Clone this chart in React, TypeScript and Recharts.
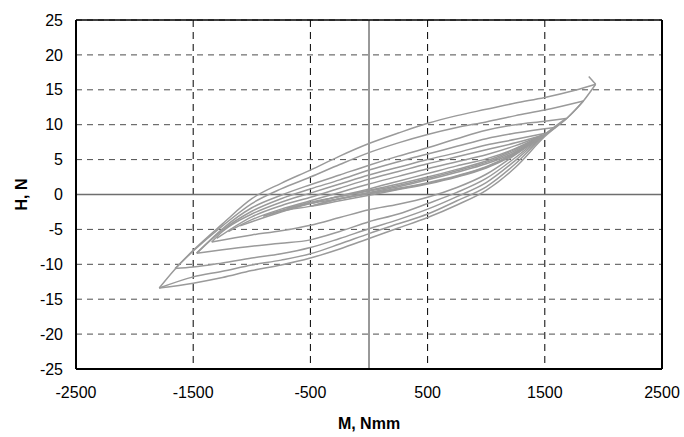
import { ScatterChart, Scatter, XAxis, YAxis, CartesianGrid, ReferenceLine } from "recharts";

type Pt = [number, number];

const xTicks = [-2500, -1500, -500, 500, 1500, 2500];
const yTicks = [-25, -20, -15, -10, -5, 0, 5, 10, 15, 20, 25];

// loading branches (negative tip -> positive tip)
const up1: Pt[] = [[-1790, -13.4], [-1650, -10.6], [-1500, -8.0], [-1250, -4.2], [-1000, -0.6], [-750, 1.6], [-500, 3.5], [-250, 5.5], [0, 7.3], [250, 8.8], [500, 10.2], [750, 11.3], [1000, 12.2], [1250, 13.1], [1500, 13.9], [1750, 14.9], [1934, 15.8]];
const hook: Pt[] = [[1934, 15.8], [1875, 16.9]];
const up2: Pt[] = [[-1655, -10.6], [-1500, -8.1], [-1250, -4.5], [-1000, -1.3], [-750, 0.8], [-500, 2.5], [-250, 4.3], [0, 6.0], [250, 7.4], [500, 8.6], [750, 9.6], [1000, 10.4], [1250, 11.3], [1500, 12.1], [1829, 13.4]];
const up3: Pt[] = [[-1470, -8.4], [-1250, -4.9], [-1000, -1.9], [-750, -0.1], [-500, 1.4], [-250, 2.8], [0, 4.2], [250, 5.5], [500, 6.7], [750, 8.0], [1000, 9.2], [1250, 10.0], [1500, 10.5], [1681, 10.9]];
const up4: Pt[] = [[-1470, -8.4], [-1250, -5.1], [-1000, -2.4], [-750, -0.6], [-500, 0.8], [-250, 2.1], [0, 3.5], [250, 4.7], [500, 5.8], [750, 6.9], [1000, 8.0], [1250, 8.8], [1587, 9.6]];
const up5: Pt[] = [[-1342, -6.8], [-1250, -5.3], [-1000, -2.8], [-750, -1.1], [-500, 0.2], [-250, 1.5], [0, 2.8], [250, 3.9], [500, 5.0], [750, 6.0], [1000, 7.1], [1250, 7.9], [1516, 8.8]];
const up6: Pt[] = [[-1300, -6.3], [-1000, -3.2], [-750, -1.6], [-500, -0.4], [-250, 0.9], [0, 2.2], [250, 3.3], [500, 4.4], [750, 5.4], [1000, 6.4], [1250, 7.4], [1480, 8.5]];
const up7: Pt[] = [[-1200, -5.3], [-1000, -3.6], [-750, -2.1], [-500, -0.9], [-250, 0.3], [0, 1.5], [250, 2.6], [500, 3.7], [750, 4.7], [1000, 5.7], [1250, 7.0], [1480, 8.5]];
const up8: Pt[] = [[-1100, -4.5], [-1000, -3.9], [-750, -2.5], [-500, -1.3], [-250, -0.2], [0, 0.8], [250, 1.9], [500, 3.0], [750, 4.1], [1000, 5.1], [1250, 6.6], [1480, 8.5]];

// small inner loops (the thick bundle)
const bu1: Pt[] = [[-902, -3.1], [-750, -2.3], [-500, -1.2], [-250, -0.3], [0, 0.6], [250, 1.5], [500, 2.5], [750, 3.6], [1000, 4.8], [1250, 6.5], [1480, 8.5]];
const bu2: Pt[] = [[-702, -2.0], [-500, -1.1], [-250, -0.3], [0, 0.5], [250, 1.3], [500, 2.3], [750, 3.4], [1000, 4.6], [1250, 6.3], [1480, 8.5]];
const bu3: Pt[] = [[-503, -1.7], [-250, -0.6], [0, 0.3], [250, 1.1], [500, 2.1], [750, 3.2], [1000, 4.4], [1250, 6.1], [1480, 8.5]];
const bd1: Pt[] = [[1480, 8.5], [1250, 5.8], [1000, 3.8], [750, 2.5], [500, 1.5], [250, 0.7], [0, -0.1], [-250, -0.9], [-500, -1.7], [-750, -2.4], [-902, -3.1]];
const bd2: Pt[] = [[1480, 8.5], [1250, 5.9], [1000, 3.9], [750, 2.6], [500, 1.6], [250, 0.8], [0, 0.1], [-250, -0.6], [-500, -1.3], [-702, -2.0]];
const bd3: Pt[] = [[1480, 8.5], [1250, 6.0], [1000, 4.0], [750, 2.7], [500, 1.7], [250, 0.9], [0, 0.2], [-250, -0.6], [-503, -1.7]];

// unloading branches (positive tip -> negative tip)
const dn1: Pt[] = [[1934, 15.8], [1829, 13.4], [1700, 11.1], [1500, 8.3], [1250, 3.9], [1000, 0.6], [750, -1.5], [500, -3.3], [250, -4.8], [0, -6.3], [-250, -7.8], [-500, -9.1], [-750, -10.1], [-1000, -10.9], [-1250, -11.9], [-1500, -12.7], [-1790, -13.4]];
const dn2: Pt[] = [[1829, 13.4], [1700, 11.1], [1500, 8.5], [1250, 4.4], [1000, 1.1], [750, -0.9], [500, -2.8], [250, -4.2], [0, -5.6], [-250, -7.1], [-500, -8.5], [-750, -9.4], [-1000, -10.1], [-1250, -11.0], [-1500, -11.8], [-1790, -13.4]];
const dn3: Pt[] = [[1681, 10.9], [1500, 8.6], [1250, 4.9], [1000, 1.7], [750, -0.3], [500, -2.1], [250, -3.6], [0, -4.9], [-250, -6.3], [-500, -7.6], [-750, -8.5], [-1000, -9.1], [-1250, -9.8], [-1500, -10.4], [-1655, -10.6]];
const dn4: Pt[] = [[1587, 9.6], [1500, 8.6], [1250, 5.3], [1000, 2.3], [750, 0.3], [500, -1.3], [250, -2.8], [0, -3.9], [-250, -5.3], [-500, -6.5], [-750, -7.0], [-1000, -7.4], [-1250, -7.9], [-1470, -8.4]];
const dn5: Pt[] = [[1516, 8.8], [1250, 5.7], [1000, 2.9], [750, 1.0], [500, -0.4], [250, -1.4], [0, -2.2], [-250, -3.3], [-500, -4.4], [-750, -5.2], [-1000, -5.8], [-1342, -6.8]];

const branches: Pt[][] = [up1, hook, up2, up3, up4, up5, up6, up7, up8, bu1, bu2, bu3, bd1, bd2, bd3, dn1, dn2, dn3, dn4, dn5];

const toXY = (pts: Pt[]) => pts.map(([x, y]) => ({ x, y }));

const GRAY = "#9a9a9a";
const FONT = "'Liberation Sans', Arial, sans-serif";

export default function App() {
    return (
        <div style={{ position: "absolute", left: 0, top: 0, background: "#fff" }}>
            <ScatterChart width={684} height={437} margin={{ top: 20, right: 22, bottom: 0, left: 0 }}>
                <CartesianGrid horizontal={false} stroke="#000" strokeDasharray="7 5" />
                <CartesianGrid vertical={false} stroke="#4d4d4d" strokeDasharray="6 5" />
                <XAxis
                    type="number"
                    dataKey="x"
                    domain={[-2500, 2500]}
                    ticks={xTicks}
                    interval={0}
                    height={68}
                    axisLine={false}
                    tickLine={false}
                    tickSize={0}
                    tickMargin={18}
                    tick={{ fill: "#000", fontSize: 16, fontFamily: FONT }}
                    label={{ value: "M, Nmm", position: "insideBottom", offset: 8, style: { fill: "#000", fontSize: 16, fontWeight: "bold", fontFamily: FONT } }}
                />
                <YAxis
                    type="number"
                    dataKey="y"
                    domain={[-25, 25]}
                    ticks={yTicks}
                    interval={0}
                    width={76}
                    axisLine={false}
                    tickLine={false}
                    tickSize={0}
                    tickMargin={13}
                    tick={{ fill: "#000", fontSize: 16, fontFamily: FONT }}
                    label={{ value: "H, N", angle: -90, position: "insideLeft", offset: 21, style: { textAnchor: "middle", fill: "#000", fontSize: 16, fontWeight: "bold", fontFamily: FONT } }}
                />
                <ReferenceLine y={0} stroke="#6e6e6e" strokeWidth={1.5} />
                <ReferenceLine x={0} stroke="#333" strokeWidth={1} />
                {branches.map((b, i) => (
                    <Scatter
                        key={i}
                        data={toXY(b)}
                        line={{ stroke: GRAY, strokeWidth: 1.5, fill: "none" }}
                        lineJointType="monotoneX"
                        shape={() => <g />}
                        isAnimationActive={false}
                    />
                ))}
                <ReferenceLine x={-2500} stroke="#000" strokeWidth={2} />
                <ReferenceLine x={2500} stroke="#000" strokeWidth={2} />
                <ReferenceLine y={-25} stroke="#000" strokeWidth={2} />
                <ReferenceLine y={25} stroke="#000" strokeWidth={1.5} />
            </ScatterChart>
        </div>
    );
}
